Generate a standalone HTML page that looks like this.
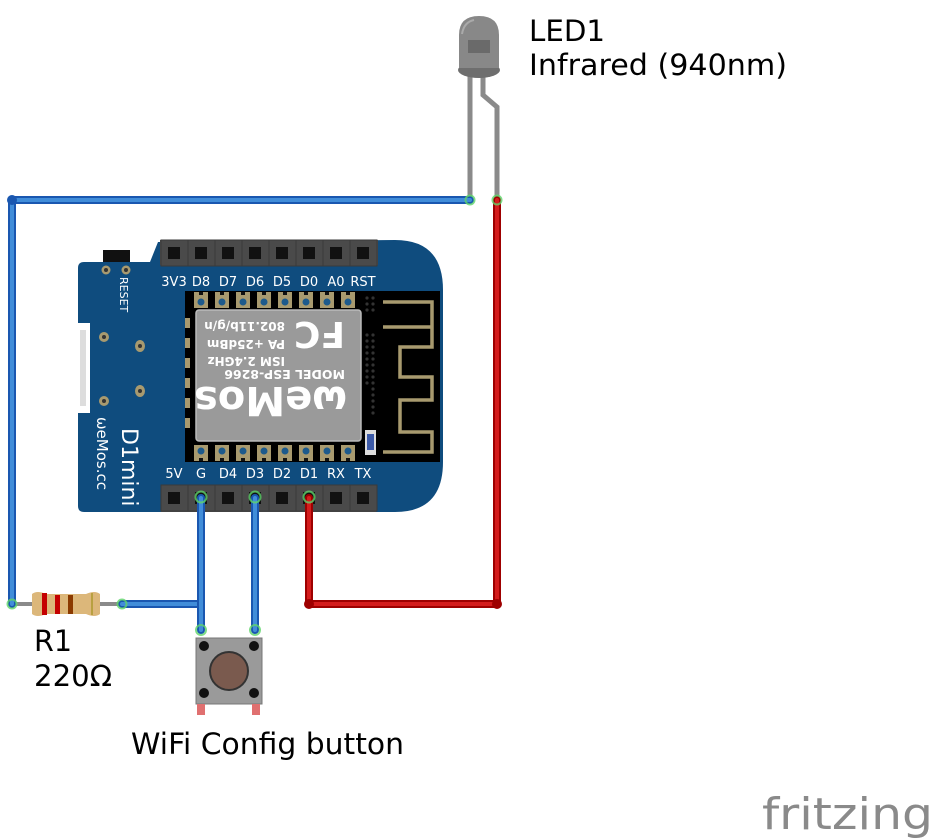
<!DOCTYPE html>
<html><head><meta charset="utf-8"><style>
html,body{margin:0;padding:0;background:#fff;}
svg{display:block;}
text{font-family:"DejaVu Sans","Liberation Sans",sans-serif;}
</style></head><body>
<svg width="933" height="840" viewBox="0 0 933 840" xmlns="http://www.w3.org/2000/svg">
<defs>
<g id="hpin"><rect x="-13" y="-13" width="27" height="26" fill="#4a4a4a"/><rect x="-13" y="-13" width="27" height="26" fill="none" stroke="#3a3a3a" stroke-width="1"/><rect x="-6" y="-6" width="12" height="12" fill="#111"/></g>
<g id="mpad"><rect x="-7" y="-8" width="14" height="16" fill="#a89a6f"/><rect x="-2" y="-8" width="4" height="3" fill="#111"/><circle cx="0" cy="2" r="3.5" fill="#1d5a8c"/></g>
</defs>

<!-- board -->
<path d="M78 268 Q78 262 84 262 L150 262 L158 242 L395 240 Q443 240 443 290 L443 462 Q443 512 395 512 L84 512 Q78 512 78 506 Z" fill="#0f4c7e"/>
<path d="M78 323 L90 323 L90 413 L78 413 Z" fill="#fff"/>
<rect x="80" y="330" width="6" height="76" fill="#ddd"/>
<rect x="103" y="250" width="27" height="12" fill="#111"/>
<g fill="#a89a6f"><circle cx="106" cy="270" r="4.5"/><circle cx="126" cy="270" r="4.5"/><circle cx="104" cy="337" r="5"/><circle cx="104" cy="401" r="5"/><ellipse cx="140" cy="346" rx="5" ry="6"/><ellipse cx="140" cy="391" rx="5" ry="6"/></g>
<g fill="#333"><circle cx="106" cy="270" r="2"/><circle cx="126" cy="270" r="2"/><circle cx="104" cy="337" r="2"/><circle cx="104" cy="401" r="2"/><circle cx="140" cy="346" r="2"/><circle cx="140" cy="391" r="2"/></g>
<text transform="translate(120,277) rotate(90)" font-size="11" fill="#fff" font-family="DejaVu Sans Mono, monospace">RESET</text>
<text transform="translate(122,428) rotate(90)" font-size="22" fill="#fff" font-family="DejaVu Sans Mono, monospace">D1mini</text>
<text transform="translate(97,417) rotate(90)" font-size="15" fill="#fff" font-family="DejaVu Sans Mono, monospace">ωeMos.cc</text>

<!-- top header -->
<rect x="160" y="240" width="218" height="25" fill="#4a4a4a"/>
<g><use href="#hpin" x="174" y="253"/><use href="#hpin" x="201" y="253"/><use href="#hpin" x="228" y="253"/><use href="#hpin" x="255" y="253"/><use href="#hpin" x="282" y="253"/><use href="#hpin" x="309" y="253"/><use href="#hpin" x="336" y="253"/><use href="#hpin" x="363" y="253"/></g>
<g font-size="13" fill="#fff" text-anchor="middle" font-family="DejaVu Sans Mono, monospace"><text x="174" y="286">3V3</text><text x="201" y="286">D8</text><text x="228" y="286">D7</text><text x="255" y="286">D6</text><text x="282" y="286">D5</text><text x="309" y="286">D0</text><text x="336" y="286">A0</text><text x="363" y="286">RST</text></g>

<!-- module -->
<rect x="185" y="291" width="255" height="171" fill="#000"/>
<g><use href="#mpad" x="201" y="300"/><use href="#mpad" x="222" y="300"/><use href="#mpad" x="243" y="300"/><use href="#mpad" x="264" y="300"/><use href="#mpad" x="285" y="300"/><use href="#mpad" x="306" y="300"/><use href="#mpad" x="327" y="300"/><use href="#mpad" x="348" y="300"/></g>
<g transform="translate(0,751) scale(1,-1)"><use href="#mpad" x="201" y="298"/><use href="#mpad" x="222" y="298"/><use href="#mpad" x="243" y="298"/><use href="#mpad" x="264" y="298"/><use href="#mpad" x="285" y="298"/><use href="#mpad" x="306" y="298"/><use href="#mpad" x="327" y="298"/><use href="#mpad" x="348" y="298"/></g>
<g fill="#a89a6f"><rect x="185" y="318" width="5" height="10"/><rect x="185" y="338" width="5" height="10"/><rect x="185" y="358" width="5" height="10"/><rect x="185" y="378" width="5" height="10"/><rect x="185" y="398" width="5" height="10"/><rect x="185" y="418" width="5" height="10"/></g>
<g fill="#333"><circle cx="367" cy="298" r="1.6"/><circle cx="373" cy="298" r="1.6"/><circle cx="367" cy="304" r="1.6"/><circle cx="373" cy="304" r="1.6"/><circle cx="367" cy="310" r="1.6"/><circle cx="373" cy="310" r="1.6"/>
<circle cx="367" cy="335" r="1.6"/><circle cx="373" cy="335" r="1.6"/><circle cx="367" cy="341" r="1.6"/><circle cx="373" cy="341" r="1.6"/><circle cx="367" cy="347" r="1.6"/><circle cx="373" cy="347" r="1.6"/><circle cx="367" cy="353" r="1.6"/><circle cx="373" cy="353" r="1.6"/><circle cx="367" cy="359" r="1.6"/><circle cx="373" cy="359" r="1.6"/><circle cx="367" cy="365" r="1.6"/><circle cx="373" cy="365" r="1.6"/><circle cx="367" cy="371" r="1.6"/><circle cx="373" cy="371" r="1.6"/><circle cx="367" cy="377" r="1.6"/><circle cx="373" cy="377" r="1.6"/><circle cx="367" cy="383" r="1.6"/><circle cx="373" cy="383" r="1.6"/><circle cx="373" cy="389" r="1.6"/><circle cx="373" cy="395" r="1.6"/><circle cx="373" cy="401" r="1.6"/><circle cx="373" cy="407" r="1.6"/><circle cx="373" cy="413" r="1.6"/></g>
<polyline points="383,302 432,302 432,347 400,347 400,377 432,377 432,400 400,400 400,432 432,432 432,452 383,452" fill="none" stroke="#a89a6f" stroke-width="3.5"/>
<line x1="383" y1="327" x2="432" y2="327" stroke="#a89a6f" stroke-width="3.5"/>
<rect x="365" y="430" width="11" height="25" fill="#ddd"/><rect x="367" y="434" width="7" height="16" fill="#3c5aa8"/>
<rect x="196" y="310" width="165" height="131" rx="3" fill="#9a9a9a" stroke="#bbb" stroke-width="1.5"/>
<g transform="rotate(180 278.5 375.5)" fill="#fff" font-weight="bold">
<text x="272" y="429" font-size="12">802.11b/g/n</text>
<text x="272" y="411" font-size="12">PA +25dBm</text>
<text x="272" y="394" font-size="12">ISM 2.4GHz</text>
<text x="212" y="381" font-size="12.5">MODEL  ESP-8266</text>
<text x="212" y="429" font-size="36">FC</text>
<text x="210" y="364" font-size="40">ωeMos</text>
</g>

<!-- bottom header -->
<rect x="161" y="485" width="215" height="27" fill="#4a4a4a"/>
<g><use href="#hpin" x="174" y="498"/><use href="#hpin" x="201" y="498"/><use href="#hpin" x="228" y="498"/><use href="#hpin" x="255" y="498"/><use href="#hpin" x="282" y="498"/><use href="#hpin" x="309" y="498"/><use href="#hpin" x="336" y="498"/><use href="#hpin" x="363" y="498"/></g>
<g font-size="13" fill="#fff" text-anchor="middle" font-family="DejaVu Sans Mono, monospace"><text x="174" y="478">5V</text><text x="201" y="478">G</text><text x="228" y="478">D4</text><text x="255" y="478">D3</text><text x="282" y="478">D2</text><text x="309" y="478">D1</text><text x="336" y="478">RX</text><text x="363" y="478">TX</text></g>

<!-- LED -->
<g fill="none" stroke="#8a8a8a" stroke-width="5">
<line x1="470" y1="72" x2="470" y2="200"/>
<polyline points="483,76 483,95 497,107 497,200"/>
</g>
<ellipse cx="479" cy="70" rx="21" ry="8" fill="#6e6e6e"/>
<path d="M459 68 L459 35 Q459 16 479 16 Q499 16 499 35 L499 68 Z" fill="#888"/>
<rect x="468" y="40" width="22" height="13" fill="#6a6a6a"/>
<path d="M462 34 Q464 22 474 20" stroke="#aaa" stroke-width="2" fill="none"/>

<!-- resistor -->
<line x1="12" y1="604" x2="122" y2="604" stroke="#8a8a8a" stroke-width="4"/>
<path d="M32 594 Q37 590 46 594 L86 594 Q95 590 100 594 L100 614 Q95 618 86 614 L46 614 Q37 618 32 614 Z" fill="#dcb77a"/>
<rect x="42" y="593" width="5" height="22" fill="#c40000"/>
<rect x="55" y="595" width="5" height="19" fill="#c40000"/>
<rect x="68" y="595" width="5" height="19" fill="#8b3a00"/>
<rect x="91" y="593" width="2" height="22" fill="#b8a040"/>

<!-- wires -->
<g fill="none" stroke-linecap="round" stroke-linejoin="round">
<polyline points="470,200 12,200 12,604" stroke="#1a57b0" stroke-width="8"/>
<polyline points="470,200 12,200 12,604" stroke="#418dd9" stroke-width="4"/>
<polyline points="122,604 200,604" stroke="#1a57b0" stroke-width="8"/>
<polyline points="122,604 200,604" stroke="#418dd9" stroke-width="4"/>
<line x1="201" y1="498" x2="201" y2="630" stroke="#1a57b0" stroke-width="8"/>
<line x1="201" y1="498" x2="201" y2="630" stroke="#418dd9" stroke-width="4"/>
<line x1="255" y1="498" x2="255" y2="630" stroke="#1a57b0" stroke-width="8"/>
<line x1="255" y1="498" x2="255" y2="630" stroke="#418dd9" stroke-width="4"/>
<polyline points="309,498 309,604 497,604 497,200" stroke="#9e0000" stroke-width="8"/>
<polyline points="309,498 309,604 497,604 497,200" stroke="#d41c1c" stroke-width="4"/>
</g>
<g fill="none" stroke="#5fd46a" stroke-width="2" opacity="0.8">
<circle cx="12" cy="604" r="4.5"/><circle cx="122" cy="604" r="4.5"/><circle cx="470" cy="200" r="4.5"/><circle cx="497" cy="200" r="4.5"/>
<circle cx="201" cy="497" r="5.5"/><circle cx="255" cy="497" r="5.5"/><circle cx="309" cy="497" r="5.5"/>
<circle cx="201" cy="630" r="5"/><circle cx="255" cy="630" r="5"/>
</g>
<circle cx="12" cy="200" r="5" fill="#1a57b0"/>
<circle cx="309" cy="604" r="5" fill="#9e0000"/><circle cx="497" cy="604" r="5" fill="#9e0000"/>

<!-- button -->
<rect x="196" y="638" width="66" height="66" fill="#9a9a9a" stroke="#777" stroke-width="1"/>
<rect x="197" y="704" width="8" height="11" fill="#e07070"/><rect x="252" y="704" width="8" height="11" fill="#e07070"/>
<circle cx="229" cy="671" r="19" fill="#7a5a4e" stroke="#333" stroke-width="2"/>
<g fill="#111"><circle cx="204" cy="646" r="5"/><circle cx="254" cy="646" r="5"/><circle cx="204" cy="693" r="5"/><circle cx="254" cy="693" r="5"/></g>

<!-- labels -->
<g font-size="29" fill="#000">
<text x="529" y="41" textLength="76" lengthAdjust="spacingAndGlyphs">LED1</text>
<text x="529" y="75" textLength="258" lengthAdjust="spacingAndGlyphs">Infrared (940nm)</text>
<text x="34" y="651" textLength="38" lengthAdjust="spacingAndGlyphs">R1</text>
<text x="34" y="686" textLength="78" lengthAdjust="spacingAndGlyphs">220Ω</text>
<text x="131" y="754" textLength="273" lengthAdjust="spacingAndGlyphs">WiFi Config button</text>
</g>
<text x="762" y="829" font-size="44" fill="#8a8a8a" textLength="171" lengthAdjust="spacingAndGlyphs">fritzing</text>
</svg>
</body></html>
